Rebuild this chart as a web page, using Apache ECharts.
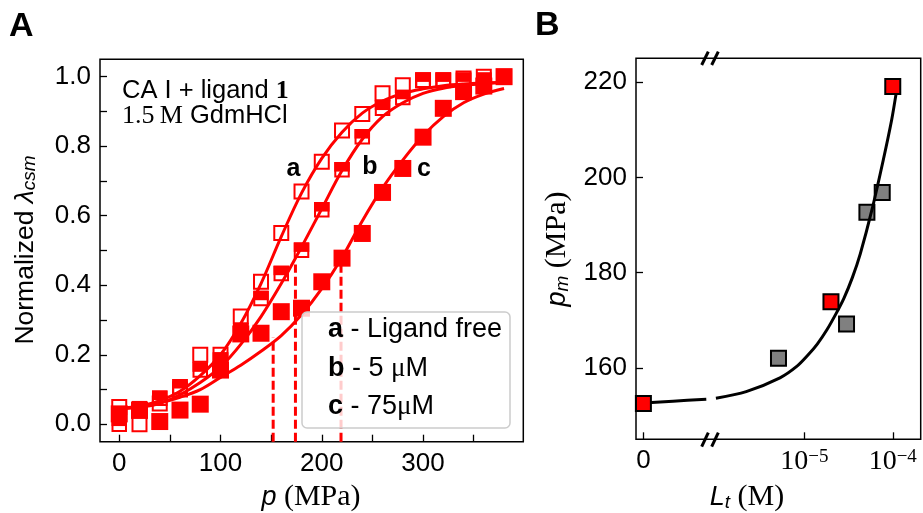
<!DOCTYPE html>
<html><head><meta charset="utf-8">
<script src="https://cdn.jsdelivr.net/npm/echarts@6/dist/echarts.min.js"></script>
<style>html,body{margin:0;padding:0;background:#fff}#c{width:923px;height:513px}</style>
</head><body><div id="c"></div>
<script>
// ---------- Panel A data ----------
const pressure = [0,20,40,60,80,100,120,140,160,180,200,220,240,260,280,300,320,340,360,380];
const normLigandFree = [0.05,0.0,0.06,0.10,0.20,0.20,0.31,0.41,0.55,0.67,0.755,0.845,0.893,0.952,0.975,0.99,0.99,0.995,1.0,1.0];
const norm5uM = [0.0,0.045,0.075,0.108,0.156,0.185,0.27,0.362,0.434,0.501,0.617,0.732,0.827,0.909,0.94,0.99,0.99,0.99,0.99,1.0];
const norm75uM = [0.03,0.04,0.008,0.041,0.058,0.156,0.26,0.262,0.324,0.334,0.41,0.478,0.549,0.667,0.736,0.826,0.909,0.957,0.973,1.0];
const fitPressure = [0,20,40,60,80,100,120,140,160,180,200,220,240,260,280,300,320,340,360,380];
const fitLigandFree = [0.045,0.052,0.068,0.095,0.14,0.20,0.29,0.405,0.54,0.665,0.765,0.84,0.895,0.93,0.952,0.965,0.974,0.979,0.982,0.984];
const fit5uM = [0.045,0.05,0.06,0.085,0.12,0.165,0.23,0.31,0.405,0.51,0.62,0.73,0.82,0.885,0.925,0.952,0.967,0.975,0.98,0.983];
const fit75uM = [0.045,0.052,0.062,0.078,0.10,0.135,0.17,0.21,0.255,0.315,0.39,0.48,0.585,0.68,0.76,0.83,0.885,0.925,0.95,0.966];
const midPressures = [152,174,219];
const midTops = [0.25,0.46,0.48];
const xTicksA = [0,50,100,150,200,250,300,350];
const xLabelsA = [0,100,200,300];
const yTicksA = [0,0.1,0.2,0.3,0.4,0.5,0.6,0.7,0.8,0.9,1.0];
const yLabelsA = [0,0.2,0.4,0.6,0.8,1.0];

// ---------- Panel B data ----------
const zeroLigand = [0];
const zeroPm = [152.5];
const redLigand = [2.0e-5, 1.0e-4];
const redPm = [173.9, 219.1];
const grayLigand = [5.1e-6, 3.0e-5, 5.1e-5, 7.6e-5];
const grayPm = [162.0, 169.2, 192.7, 196.8];
const fitLowLigand = [0, 0.4e-6, 0.85e-6];
const fitLowPm = [152.6, 153.0, 153.4];
const fitLigand = [1.0e-6, 2.2e-6, 5.3e-6, 8.2e-6, 1.1e-5, 1.4e-5, 1.8e-5, 2.3e-5, 2.8e-5, 3.5e-5, 4.3e-5, 5.8e-5, 7.8e-5, 9.7e-5, 1.1e-4];
const fitPm = [153.6, 155.0, 157.9, 160.3, 162.7, 165.0, 168.0, 171.5, 174.6, 179.0, 184.0, 193.1, 203.6, 212.0, 218.0];
const yTicksB = [160,180,200,220];
const xTicksBlog = [1e-5, 1e-4];

const RED = '#ff0000';
const SANS = 'Liberation Sans';
const SERIF = 'Liberation Serif';
const zip = (xs, ys) => xs.map((x, i) => [x, ys[i]]);

const chart = echarts.init(document.getElementById('c'), null, {renderer: 'canvas'});

const tickStyle = {inside: true, length: 7, lineStyle: {color: '#000', width: 1.3}};
const labelStyle = {color: '#000', fontFamily: SANS, fontSize: 26};
const noLine = {show: false, onZero: false};

const option = {
  animation: false,
  backgroundColor: '#fff',
  grid: [
    {left: 100, top: 59.3, width: 423.3, height: 382.4, show: true, borderColor: '#000', borderWidth: 1.5, backgroundColor: 'transparent'},
    {left: 636, top: 58.3, width: 74, height: 381},
    {left: 710, top: 58.3, width: 210.7, height: 381}
  ],
  xAxis: [
    {gridIndex: 0, type: 'value', min: -19, max: 399,
      axisLine: noLine, splitLine: {show: false},
      axisTick: Object.assign({customValues: xTicksA}, tickStyle),
      axisLabel: Object.assign({customValues: xLabelsA, margin: 9}, labelStyle)},
    {gridIndex: 1, type: 'value', min: -1e-7, max: 9e-7,
      axisLine: noLine, splitLine: {show: false},
      axisTick: Object.assign({customValues: [0]}, tickStyle),
      axisLabel: Object.assign({customValues: [0], margin: 9, formatter: () => '0'}, labelStyle)},
    {gridIndex: 2, type: 'log', logBase: 10, min: 8.57e-7, max: 2.07e-4,
      axisLine: noLine, splitLine: {show: false},
      axisTick: Object.assign({customValues: xTicksBlog}, tickStyle),
      axisLabel: Object.assign({customValues: xTicksBlog, margin: 8,
        formatter: v => '{n|10}{s|' + '\u2212' + Math.round(-Math.log10(v)) + '}',
        rich: {n: {fontFamily: SERIF, fontSize: 28, color: '#000', verticalAlign: 'bottom'},
               s: {fontFamily: SERIF, fontSize: 19, color: '#000', verticalAlign: 'top'}}}, labelStyle)}
  ],
  yAxis: [
    {gridIndex: 0, type: 'value', min: -0.05, max: 1.05,
      axisLine: noLine, splitLine: {show: false},
      axisTick: Object.assign({customValues: yTicksA}, tickStyle),
      axisLabel: Object.assign({customValues: yLabelsA, margin: 9, formatter: v => v.toFixed(1)}, labelStyle)},
    {gridIndex: 1, type: 'value', min: 145, max: 225,
      axisLine: noLine, splitLine: {show: false},
      axisTick: Object.assign({customValues: yTicksB}, tickStyle),
      axisLabel: Object.assign({customValues: yTicksB, margin: 9}, labelStyle)},
    {gridIndex: 2, type: 'value', min: 145, max: 225, show: false, axisLine: noLine}
  ],
  series: [
    // dashed midpoint lines
    ...midPressures.map((p, i) => ({
      type: 'line', xAxisIndex: 0, yAxisIndex: 0, data: [[p, -0.05], [p, midTops[i]]],
      symbol: 'none', clip: false, lineStyle: {color: RED, width: 3, type: [9, 4]}, z: 1
    })),
    // fits
    ...[fitLigandFree, fit5uM, fit75uM].map(f => ({
      type: 'line', xAxisIndex: 0, yAxisIndex: 0, data: zip(fitPressure, f), smooth: 0.35,
      symbol: 'none', clip: false, lineStyle: {color: RED, width: 3}, z: 2
    })),
    // a: open squares
    {type: 'scatter', xAxisIndex: 0, yAxisIndex: 0, data: zip(pressure, normLigandFree), clip: false,
      symbol: 'rect', symbolSize: 14, itemStyle: {color: 'rgba(0,0,0,0)', borderColor: RED, borderWidth: 2, opacity: 1}, z: 3},
    // b: half-filled squares (outline + filled upper part)
    {type: 'scatter', xAxisIndex: 0, yAxisIndex: 0, data: zip(pressure, norm5uM), clip: false,
      symbol: 'rect', symbolSize: 13.5, itemStyle: {color: 'rgba(0,0,0,0)', borderColor: RED, borderWidth: 2, opacity: 1}, z: 4},
    {type: 'scatter', xAxisIndex: 0, yAxisIndex: 0, data: zip(pressure, norm5uM), clip: false,
      symbol: 'rect', symbolSize: [15.5, 9.5], symbolOffset: [0, -3], itemStyle: {color: RED, opacity: 1}, z: 4},
    // c: filled squares
    {type: 'scatter', xAxisIndex: 0, yAxisIndex: 0, data: zip(pressure, norm75uM), clip: false,
      symbol: 'rect', symbolSize: 17, itemStyle: {color: RED, opacity: 1}, z: 5},
    // Panel B
    {type: 'scatter', xAxisIndex: 2, yAxisIndex: 2, data: zip(grayLigand, grayPm), clip: false,
      symbol: 'rect', symbolSize: 15, itemStyle: {color: '#808080', borderColor: '#000', borderWidth: 2, opacity: 1}, z: 3},
    {type: 'line', xAxisIndex: 1, yAxisIndex: 1, data: zip(fitLowLigand, fitLowPm), smooth: 0.3,
      symbol: 'none', clip: false, lineStyle: {color: '#000', width: 3}, z: 4},
    {type: 'line', xAxisIndex: 2, yAxisIndex: 2, data: zip(fitLigand, fitPm), smooth: 0.3,
      symbol: 'none', clip: false, lineStyle: {color: '#000', width: 3}, z: 4},
    {type: 'scatter', xAxisIndex: 1, yAxisIndex: 1, data: zip(zeroLigand, zeroPm), clip: false,
      symbol: 'rect', symbolSize: 15, itemStyle: {color: RED, borderColor: '#000', borderWidth: 2, opacity: 1}, z: 5},
    {type: 'scatter', xAxisIndex: 2, yAxisIndex: 2, data: zip(redLigand, redPm), clip: false,
      symbol: 'rect', symbolSize: 15, itemStyle: {color: RED, borderColor: '#000', borderWidth: 2, opacity: 1}, z: 5}
  ],
  graphic: [
    // panel letters
    {type: 'text', x: 9, y: 27, z: 100, style: {text: 'A', fontFamily: SANS, fontWeight: 'bold', fontSize: 34, fill: '#000', verticalAlign: 'middle'}},
    {type: 'text', x: 535, y: 26, z: 100, style: {text: 'B', fontFamily: SANS, fontWeight: 'bold', fontSize: 34, fill: '#000', verticalAlign: 'middle'}},
    // panel B frame
    {type: 'rect', z: 50, shape: {x: 636, y: 58.3, width: 284.7, height: 381}, style: {fill: 'none', stroke: '#000', lineWidth: 1.5}},
    // break marks
    {type: 'line', z: 60, shape: {x1: 701.7, y1: 65, x2: 708.3, y2: 51.7}, style: {stroke: '#000', lineWidth: 3}},
    {type: 'line', z: 60, shape: {x1: 711.7, y1: 65, x2: 718.3, y2: 51.7}, style: {stroke: '#000', lineWidth: 3}},
    {type: 'line', z: 60, shape: {x1: 701.7, y1: 446.7, x2: 708.3, y2: 432.7}, style: {stroke: '#000', lineWidth: 3}},
    {type: 'line', z: 60, shape: {x1: 711.7, y1: 446.7, x2: 718.3, y2: 432.7}, style: {stroke: '#000', lineWidth: 3}},
    // annotations A
    {type: 'text', x: 122, y: 91, z: 100, style: {text: 'CA I + ligand {b|1}', fontFamily: SANS, fontSize: 25.5, fill: '#000', verticalAlign: 'middle',
      rich: {b: {fontFamily: SERIF, fontWeight: 'bold', fontSize: 26}}}},
    {type: 'text', x: 122, y: 116, z: 100, style: {text: '{r|1.5\u2009M} GdmHCl', fontFamily: SANS, fontSize: 25.5, fill: '#000', verticalAlign: 'middle',
      rich: {r: {fontFamily: SERIF, fontSize: 26}}}},
    {type: 'text', x: 293.5, y: 169, z: 100, style: {text: 'a', fontFamily: SANS, fontWeight: 'bold', fontSize: 25, fill: '#000', align: 'center', verticalAlign: 'middle'}},
    {type: 'text', x: 370, y: 167, z: 100, style: {text: 'b', fontFamily: SANS, fontWeight: 'bold', fontSize: 25, fill: '#000', align: 'center', verticalAlign: 'middle'}},
    {type: 'text', x: 424, y: 169, z: 100, style: {text: 'c', fontFamily: SANS, fontWeight: 'bold', fontSize: 25, fill: '#000', align: 'center', verticalAlign: 'middle'}},
    // legend box
    {type: 'rect', z: 90, shape: {x: 302, y: 312, width: 208, height: 116, r: 5}, style: {fill: 'rgba(255,255,255,0.8)', stroke: '#cccccc', lineWidth: 1.5}},
    {type: 'text', x: 328, y: 330, z: 100, style: {text: '{b|a} - Ligand free', fontFamily: SANS, fontSize: 27, fill: '#000', verticalAlign: 'middle', rich: {b: {fontWeight: 'bold', fontFamily: SANS, fontSize: 27}}}},
    {type: 'text', x: 328, y: 369, z: 100, style: {text: '{b|b} - 5 {r|\u03bc}M', fontFamily: SANS, fontSize: 27, fill: '#000', verticalAlign: 'middle', rich: {b: {fontWeight: 'bold', fontFamily: SANS, fontSize: 27}, r: {fontFamily: SERIF, fontSize: 27}}}},
    {type: 'text', x: 328, y: 407, z: 100, style: {text: '{b|c} - 75{r|\u03bc}M', fontFamily: SANS, fontSize: 27, fill: '#000', verticalAlign: 'middle', rich: {b: {fontWeight: 'bold', fontFamily: SANS, fontSize: 27}, r: {fontFamily: SERIF, fontSize: 27}}}},
    // axis titles
    {type: 'text', x: 311, y: 497, z: 100, style: {text: '{i|p} (MPa)', fontFamily: SERIF, fontSize: 30, fill: '#000', align: 'center', verticalAlign: 'middle', rich: {i: {fontFamily: SANS, fontStyle: 'italic', fontSize: 27}}}},
    {type: 'text', x: 747, y: 497, z: 100, style: {text: '{i|L}{s|t} (M)', fontFamily: SERIF, fontSize: 30, fill: '#000', align: 'center', verticalAlign: 'middle', rich: {i: {fontFamily: SANS, fontStyle: 'italic', fontSize: 27}, s: {fontFamily: SANS, fontStyle: 'italic', fontSize: 19, verticalAlign: 'bottom'}}}},
    {type: 'text', x: 26, y: 250, rotation: Math.PI / 2, z: 100, style: {text: 'Normalized {l|\u03bb}{s|csm}', fontFamily: SANS, fontSize: 26.5, fill: '#000', align: 'center', verticalAlign: 'middle', rich: {l: {fontFamily: SANS, fontStyle: 'italic', fontSize: 26.5}, s: {fontFamily: SANS, fontStyle: 'italic', fontSize: 19, verticalAlign: 'bottom'}}}},
    {type: 'text', x: 557, y: 249, rotation: Math.PI / 2, z: 100, style: {text: '{i|p}{s|m} (MPa)', fontFamily: SERIF, fontSize: 30, fill: '#000', align: 'center', verticalAlign: 'middle', rich: {i: {fontFamily: SANS, fontStyle: 'italic', fontSize: 27}, s: {fontFamily: SANS, fontStyle: 'italic', fontSize: 19, verticalAlign: 'bottom'}}}}
  ]
};
chart.setOption(option);
</script></body></html>
